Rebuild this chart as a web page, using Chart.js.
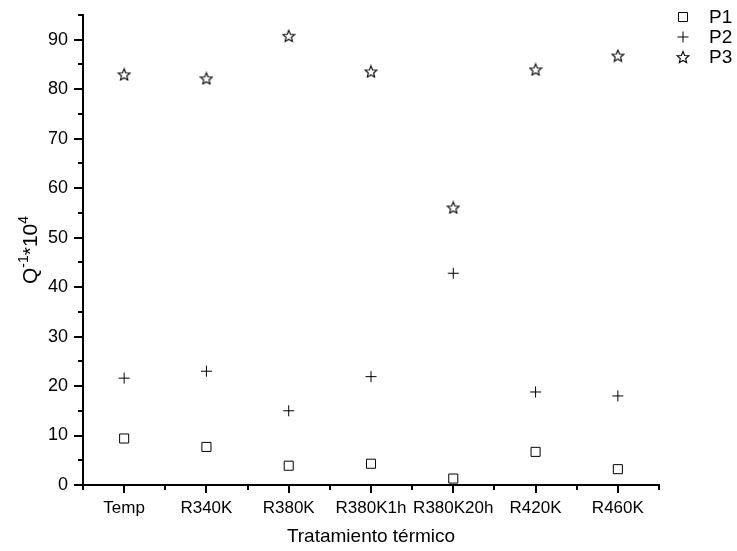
<!DOCTYPE html>
<html>
<head>
<meta charset="utf-8">
<script src="https://cdn.jsdelivr.net/npm/chart.js@4.4.0/dist/chart.umd.min.js"></script>
<style>
  html, body { margin: 0; padding: 0; background: #fff; }
</style>
</head>
<body>
<canvas id="chart" width="737" height="551"></canvas>
<script>
const categories = ["Temp", "R340K", "R380K", "R380K1h", "R380K20h", "R420K", "R460K"];
const seriesNames = ["P1", "P2", "P3"];
const p1Values = [9.4, 7.7, 3.9, 4.3, 1.3, 6.7, 3.2];
const p2Values = [21.6, 23.0, 15.0, 21.9, 42.8, 18.8, 18.0];
const p3Values = [83.0, 82.2, 90.8, 83.6, 56.1, 84.0, 86.8];

const FONT = "'Liberation Sans', Arial, sans-serif";

// open five-point star, chart.js only has the asterisk one
function makeStar(size) {
  const c = document.createElement("canvas");
  c.width = size;
  c.height = size;
  const g = c.getContext("2d");
  const cx = size / 2, cy = size / 2 + 0.7;
  const R = size / 2 - 0.8, r = R * 0.45;
  g.beginPath();
  for (let i = 0; i < 10; i++) {
    const a = -Math.PI / 2 + i * Math.PI / 5;
    const rad = i % 2 ? r : R;
    g.lineTo(cx + rad * Math.cos(a), cy + rad * Math.sin(a));
  }
  g.closePath();
  g.lineWidth = 1.1;
  g.strokeStyle = "#000";
  g.stroke();
  return c;
}
const starImg = makeStar(14);

const toPoints = (vals) => vals.map((v, i) => ({ x: i + 1, y: v }));
const isWhole = (v) => Math.abs(v - Math.round(v)) < 1e-6;

const markerStyles = [
  { pointStyle: "rect", radius: 6.4 },
  { pointStyle: "cross", radius: 5.5 },
  { pointStyle: starImg, radius: 7 }
];

// tick marks: long on majors, short on minors, pointing out
const tickMarks = {
  id: "tickMarks",
  afterDraw(chart) {
    const ctx = chart.ctx;
    const xs = chart.scales.x, ys = chart.scales.y;
    const area = chart.chartArea;
    ctx.save();
    ctx.strokeStyle = "#000";
    ctx.lineWidth = 2;
    for (let v = 0; v <= 95; v += 5) {
      const y = Math.round(ys.getPixelForValue(v));
      const len = v % 10 === 0 ? 9 : 5;
      ctx.beginPath();
      ctx.moveTo(area.left, y);
      ctx.lineTo(area.left - len, y);
      ctx.stroke();
    }
    for (let v = 0.5; v <= 7.5; v += 0.5) {
      const x = Math.round(xs.getPixelForValue(v));
      const len = isWhole(v) ? 8 : 5;
      ctx.beginPath();
      ctx.moveTo(x, area.bottom);
      ctx.lineTo(x, area.bottom + len);
      ctx.stroke();
    }
    ctx.restore();
  }
};

// y title with real superscripts: Q^-1*10^4
const yTitle = {
  id: "yTitle",
  afterDraw(chart) {
    const ctx = chart.ctx;
    const area = chart.chartArea;
    const parts = [
      { t: "Q", size: 21, rise: 0 },
      { t: "-1", size: 14, rise: 9 },
      { t: "*10", size: 21, rise: 0 },
      { t: "4", size: 14, rise: 9 }
    ];
    ctx.save();
    let total = 0;
    parts.forEach((p) => {
      ctx.font = p.size + "px " + FONT;
      p.w = ctx.measureText(p.t).width;
      total += p.w;
    });
    ctx.translate(30, (area.top + area.bottom) / 2);
    ctx.rotate(-Math.PI / 2);
    ctx.fillStyle = "#000";
    ctx.textBaseline = "alphabetic";
    let x = -total / 2;
    parts.forEach((p) => {
      ctx.font = p.size + "px " + FONT;
      ctx.fillText(p.t, x, 7 - p.rise);
      x += p.w;
    });
    ctx.restore();
  }
};

const cornerLegend = {
  id: "cornerLegend",
  afterDraw(chart) {
    const ctx = chart.ctx;
    const rows = [17, 37, 57];
    ctx.save();
    chart.data.datasets.forEach((ds, i) => {
      const st = markerStyles[i];
      ctx.fillStyle = "rgba(0,0,0,0)";
      ctx.strokeStyle = "#000";
      ctx.lineWidth = 1;
      Chart.helpers.drawPoint(ctx, {
        pointStyle: st.pointStyle,
        radius: st.radius,
        rotation: 0,
        borderWidth: 1
      }, 683, rows[i]);
      ctx.fillStyle = "#000";
      ctx.font = "19px " + FONT;
      ctx.textBaseline = "middle";
      ctx.textAlign = "left";
      ctx.fillText(ds.label, 709, rows[i] + 1);
    });
    ctx.restore();
  }
};

const datasets = [p1Values, p2Values, p3Values].map((vals, i) => ({
  label: seriesNames[i],
  data: toPoints(vals),
  pointStyle: markerStyles[i].pointStyle,
  pointRadius: markerStyles[i].radius,
  pointBorderColor: "#000",
  pointBackgroundColor: "rgba(0,0,0,0)",
  pointBorderWidth: 1,
  showLine: false
}));

new Chart(document.getElementById("chart"), {
  type: "scatter",
  data: { datasets },
  options: {
    responsive: false,
    devicePixelRatio: 1,
    animation: false,
    events: [],
    layout: { padding: { left: 0, right: 78, top: 15, bottom: 0 } },
    plugins: {
      legend: { display: false },
      tooltip: { enabled: false }
    },
    scales: {
      x: {
        type: "linear",
        min: 0.5,
        max: 7.5,
        afterFit: (scale) => {
          scale.height = 66;
          scale.paddingLeft = 0;
          scale.paddingRight = 0;
        },
        grid: { drawOnChartArea: false, drawTicks: false },
        border: { color: "#000", width: 2 },
        ticks: {
          stepSize: 0.5,
          autoSkip: false,
          maxRotation: 0,
          padding: 13,
          color: "#000",
          font: { family: FONT, size: 17 },
          callback: (v) => isWhole(v) ? categories[Math.round(v) - 1] : ""
        },
        title: {
          display: true,
          text: "Tratamiento térmico",
          color: "#000",
          font: { family: FONT, size: 19 },
          padding: { top: 0, bottom: 3 }
        }
      },
      y: {
        min: 0,
        max: 95,
        afterFit: (scale) => {
          scale.width = 83;
          scale.paddingTop = 0;
          scale.paddingBottom = 0;
        },
        grid: { drawOnChartArea: false, drawTicks: false },
        border: { color: "#000", width: 2 },
        ticks: {
          stepSize: 5,
          autoSkip: false,
          padding: 15,
          color: "#000",
          font: { family: FONT, size: 18 },
          callback: (v) => v % 10 === 0 ? v : ""
        }
      }
    }
  },
  plugins: [tickMarks, yTitle, cornerLegend]
});
</script>
</body>
</html>
